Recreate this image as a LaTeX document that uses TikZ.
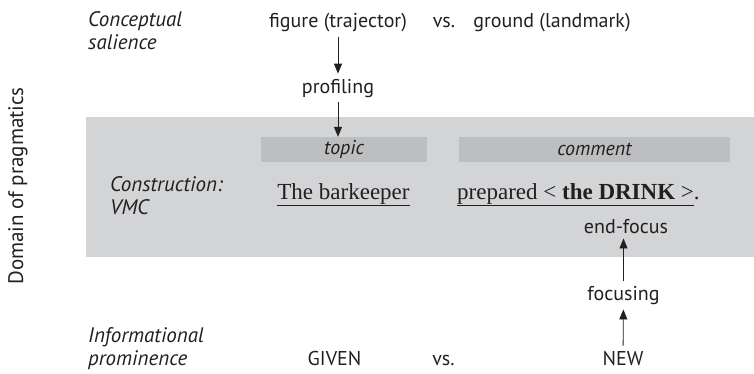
\documentclass[tikz,border=0pt]{standalone}
\usepackage{fontspec}
\setmainfont{Liberation Serif}
\setsansfont{PT Sans}
\usetikzlibrary{arrows.meta}
\definecolor{panelgray}{RGB}{211,212,214}
\definecolor{bargray}{RGB}{189,190,192}
\definecolor{ink}{RGB}{35,31,32}
\tikzset{
term/.style = {
    font=\sffamily\fontsize{20}{24}\selectfont,
    text=ink,
    anchor=base,
    inner sep=5pt
  },
level name/.style = {
    font=\sffamily\itshape\fontsize{21}{23}\selectfont,
    text=ink,
    anchor=base west,
    align=left,
    inner sep=0pt
  },
role bar/.style = {
    fill=bargray,
    minimum height=25pt,
    inner sep=0pt,
    font=\sffamily\itshape\fontsize{20}{22}\selectfont,
    text=ink
  },
sentence/.style = {
    font=\fontsize{23}{27}\selectfont,
    text=ink,
    anchor=base,
    inner sep=4pt
  },
link/.style = {
    -{Triangle[length=10pt,width=8pt]},
    draw=ink,
    line width=0.8pt
  }
}

\begin{document}
\begin{tikzpicture}[x=1pt,y=-1pt]
\useasboundingbox (0,0) rectangle (754,373);
% the construction panel
\fill[panelgray] (86,117) rectangle (754,257);

\node[font=\sffamily\fontsize{21}{23}\selectfont, text=ink, rotate=90] (domain) at (18,186) {Domain of pragmatics};

% level names (anchored at the baseline of their last line)
\node[level name] (salience) at (88,49) {Conceptual\\salience};
\node[level name] (construction) at (110,214) {Construction:\\VMC};
\node[level name] (prominence) at (88,365) {Informational\\prominence};

% conceptual level
\node[term] (figure) at (338,27) {figure (trajector)};
\node[term] (vstop) at (444,27) {vs.};
\node[term] (ground) at (552,27) {ground (landmark)};
\node[term] (profiling) at (338,93) {profiling};

% construction level
\node[role bar, minimum width=166pt] (topic) at (344,149.5) {topic};
\node[role bar, minimum width=271pt] (comment) at (594.5,149.5) {comment};
\node[sentence] (barkeeper) at (343.5,199) {\underline{The barkeeper}};
\node[sentence, anchor=base west, inner sep=0pt] (prepared) at (457,199) {\underline{prepared < \textbf{the DRINK} >}.};
\node[term] (endfocus) at (626,233) {end-focus};

% informational level
\node[term] (focusing) at (623.5,300) {focusing};
\node[term] (given) at (334.5,365) {GIVEN};
\node[term] (vsbottom) at (443.5,365) {vs.};
\node[term] (new) at (623,365) {NEW};

\draw[link] (figure) -- (profiling);
\draw[link] (profiling) -- (profiling |- topic.north);
\draw[link] (new) -- (focusing);
\draw[link] (focusing) -- (focusing |- endfocus.south);
\end{tikzpicture}
\end{document}
